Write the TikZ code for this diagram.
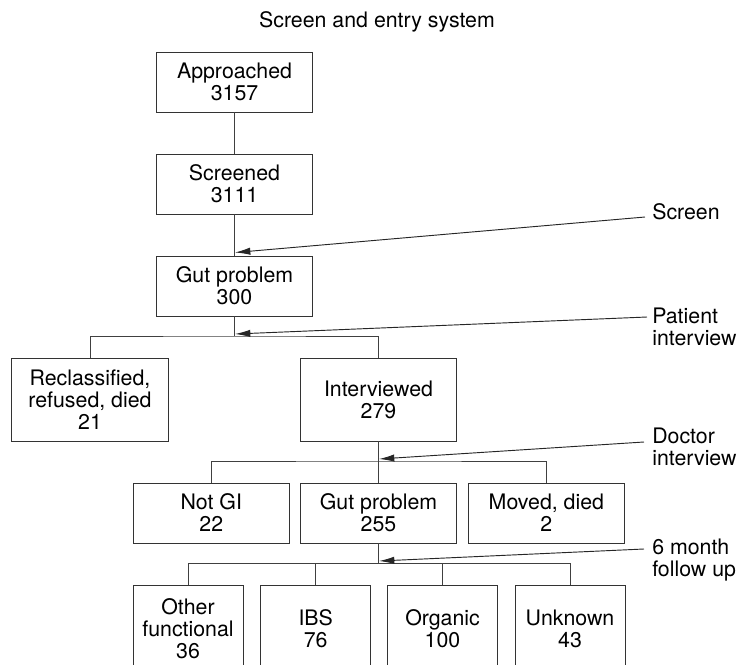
\documentclass[tikz,border=0pt]{standalone}
\usepackage{fontspec}
\setmainfont{TeX Gyre Heros}
\usetikzlibrary{arrows.meta}
\begin{document}
\begin{tikzpicture}[x=0.75pt, y=-0.75pt,
  every node/.style={font=\fontsize{16}{16.5}\selectfont, inner sep=0pt},
  box/.style={draw=black!80, line width=0.7pt, align=center, minimum width=117.5pt, minimum height=45pt},
  tallbox/.style={box, minimum height=62.25pt},
  smallbox/.style={box, minimum width=82.5pt, minimum height=64.5pt},
  link/.style={draw=black!75, line width=0.7pt},
  leader/.style={draw=black!85, line width=0.7pt, -{Latex[length=11.5pt,width=5.5pt]}},
  note/.style={anchor=west, align=left}]
  \useasboundingbox (0,0) rectangle (742,664);
  \clip (0,0) rectangle (742,664);
  \node (title) at (377,22) {Screen and entry system};
  \node [box] (appr) at (234.5,82) {Approached\\3157};
  \node [box] (scrd) at (234.5,184) {Screened\\3111};
  \node [box] (gut) at (234.5,286) {Gut problem\\300};
  \node [tallbox] (recl) at (90,399.5) {Reclassified,\\refused, died\\21};
  \node [tallbox] (intv) at (378.5,399.5) {Interviewed\\279};
  \node [box] (notgi) at (211.3,513) {Not GI\\22};
  \node [box] (gutb) at (378.5,513) {Gut problem\\255};
  \node [box] (moved) at (546.4,513) {Moved, died\\2};
  \foreach \n/\x/\t in {oth/188/{Other\\functional\\36}, ibs/315.7/{IBS\\76},
                        org/442.5/{Organic\\100}, unk/570/{Unknown\\43}}
  {
    \node [smallbox] (\n) at (\x,628.5) {\t};
  }
  \coordinate (br2) at (234.5,336);
  \coordinate (br3) at (378.5,461);
  \coordinate (br4) at (378.5,563);
  \draw [link] (appr) -- (scrd);
  \draw [link] (scrd) -- (gut);
  \draw [link] (gut) -- (br2);
  \draw [link] (recl.north) |- (br2) -| (intv.north);
  \draw [link] (intv) -- (gutb);
  \draw [link] (notgi.north) |- (br3) -| (moved.north);
  \draw [link] (gutb) -- (br4);
  \foreach \n in {oth,ibs,org,unk}
  {
    \draw [link] (\n.north) |- (br4);
  }
  \node [note] (lscr) at (652,212) {Screen};
  \node [note] (lpat) at (652,327) {Patient\\interview};
  \node [note] (ldoc) at (652,447) {Doctor\\interview};
  \node [note] (lfol) at (652,560) {6 month\\follow up};
  \coordinate (sscr) at (645,217);
  \coordinate (spat) at (647,317);
  \coordinate (sdoc) at (644,442);
  \coordinate (sfol) at (644,549);
  \coordinate (tscr) at (235,252.5);
  \coordinate (tpat) at (235,334);
  \coordinate (tdoc) at (379,459);
  \coordinate (tfol) at (379,561);
  \draw [leader] (sscr) -- (tscr);
  \draw [leader] (spat) -- (tpat);
  \draw [leader] (sdoc) -- (tdoc);
  \draw [leader] (sfol) -- (tfol);
\end{tikzpicture}
\end{document}
